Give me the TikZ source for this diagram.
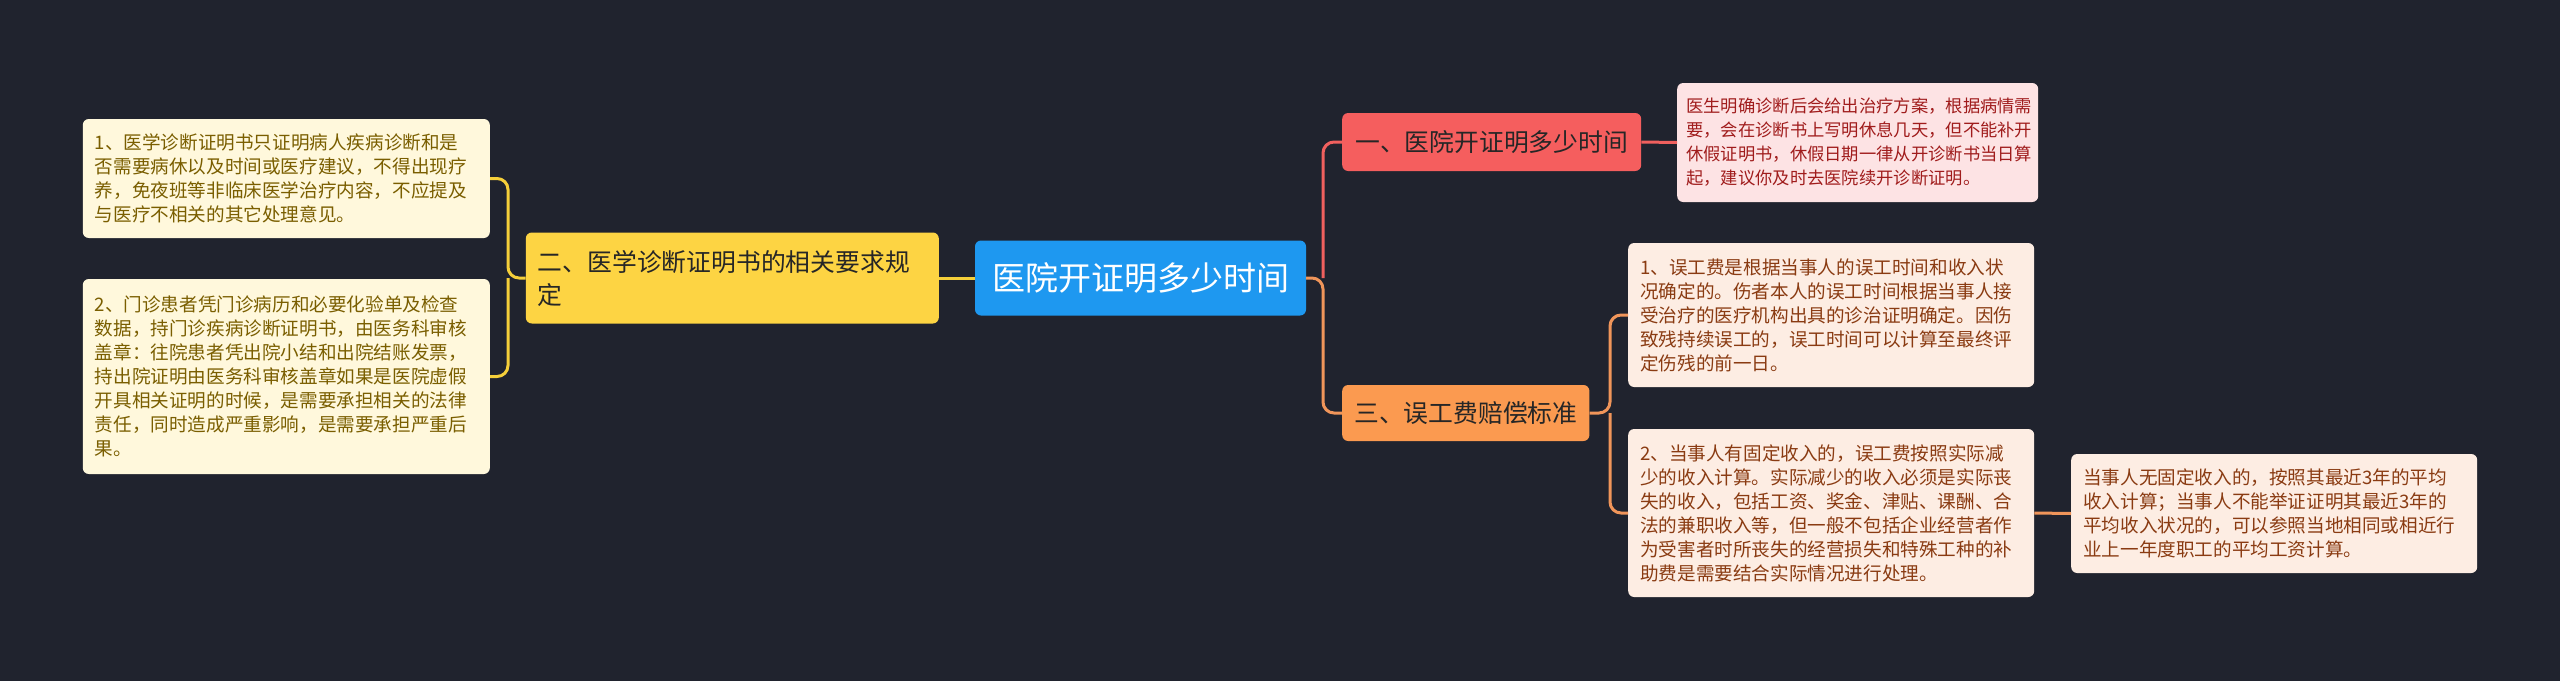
\documentclass[tikz,border=0pt]{standalone}
\usepackage{fontspec}
\setmainfont{Noto Sans CJK SC}
\definecolor{fond}{HTML}{20232E}
\definecolor{bleu}{HTML}{1E98F0}
\definecolor{jauneFonce}{HTML}{FDD443}
\definecolor{jauneClair}{HTML}{FFF8DC}
\definecolor{jauneTexte}{HTML}{7A5E00}
\definecolor{jauneLien}{HTML}{F5CF3A}
\definecolor{rougeFonce}{HTML}{F55E5E}
\definecolor{rougeClair}{HTML}{FDE3E4}
\definecolor{rougeTexte}{HTML}{A01C1C}
\definecolor{rougeLien}{HTML}{F0605E}
\definecolor{orangeFonce}{HTML}{FB9A50}
\definecolor{orangeClair}{HTML}{FDEDE3}
\definecolor{orangeTexte}{HTML}{8A3B12}
\definecolor{orangeLien}{HTML}{F0955A}
\begin{document}
\begin{tikzpicture}[x=1pt,y=-1pt]
			% Styles
			\tikzstyle{lien}=[line width=3pt,rounded corners=11pt]
			\tikzstyle{noeud}=[rounded corners=6pt,inner xsep=12pt,inner ysep=0pt]
			\tikzstyle{racine}=[noeud,fill=bleu,text=white,font=\fontsize{33}{38}\selectfont]
			\tikzstyle{branche}=[noeud,text=black!85,font=\fontsize{24.8}{33}\selectfont]
			\tikzstyle{feuille}=[noeud,align=left,font=\fontsize{18.6}{24}\selectfont]
			% Dimensions
			\def\NiveauA{490}
			\def\NiveauB{939}
			\def\NiveauC{1140.5}
			\def\NiveauD{1342}
			\def\NiveauE{1628}
			\def\NiveauF{2071}
			\def\Centre{278}
			% Fond
			\fill[fond] (0,0) rectangle (2560,681);
			\useasboundingbox (0,0) rectangle (2560,681);
			% Noeuds
			\node[racine,minimum width=331,minimum height=75] (R) at ({\NiveauC},{\Centre}) {医院开证明多少时间};
			%
			\node[branche,fill=rougeFonce,anchor=west,minimum width=299,minimum height=58] (Ra) at ({\NiveauD},142) {一、医院开证明多少时间};
			\node[feuille,fill=rougeClair,text=rougeTexte,anchor=west,text width=343,inner xsep=9pt,minimum height=119,font=\fontsize{17.3}{24}\selectfont] (Raa) at (1677,142.5) {医生明确诊断后会给出治疗方案，根据病情需\\要，会在诊断书上写明休息几天，但不能补开\\休假证明书，休假日期一律从开诊断书当日算\\起，建议你及时去医院续开诊断证明。};
			%
			\node[branche,fill=orangeFonce,anchor=west,minimum width=247,minimum height=56] (Rb) at ({\NiveauD},413) {三、误工费赔偿标准};
			\node[feuille,fill=orangeClair,text=orangeTexte,anchor=west,text width=382,minimum height=144] (Rba) at ({\NiveauE},315) {1、误工费是根据当事人的误工时间和收入状\\况确定的。伤者本人的误工时间根据当事人接\\受治疗的医疗机构出具的诊治证明确定。因伤\\致残持续误工的，误工时间可以计算至最终评\\定伤残的前一日。};
			\node[feuille,fill=orangeClair,text=orangeTexte,anchor=west,text width=382,minimum height=168] (Rbb) at ({\NiveauE},513) {2、当事人有固定收入的，误工费按照实际减\\少的收入计算。实际减少的收入必须是实际丧\\失的收入，包括工资、奖金、津贴、课酬、合\\法的兼职收入等，但一般不包括企业经营者作\\为受害者时所丧失的经营损失和特殊工种的补\\助费是需要结合实际情况进行处理。};
			\node[feuille,fill=orangeClair,text=orangeTexte,anchor=west,text width=382,minimum height=119] (Rbba) at ({\NiveauF},513.5) {当事人无固定收入的，按照其最近3年的平均\\收入计算；当事人不能举证证明其最近3年的\\平均收入状况的，可以参照当地相同或相近行\\业上一年度职工的平均工资计算。};
			%
			\node[branche,fill=jauneFonce,anchor=east,align=left,text width=389,minimum height=91] (Rc) at ({\NiveauB},{\Centre}) {二、医学诊断证明书的相关要求规\\定};
			\node[feuille,fill=jauneClair,text=jauneTexte,anchor=east,text width=383,minimum height=119] (Rca) at ({\NiveauA},178.5) {1、医学诊断证明书只证明病人疾病诊断和是\\否需要病休以及时间或医疗建议，不得出现疗\\养，免夜班等非临床医学治疗内容，不应提及\\与医疗不相关的其它处理意见。};
			\node[feuille,fill=jauneClair,text=jauneTexte,anchor=east,text width=383,minimum height=195] (Rcb) at ({\NiveauA},376.5) {2、门诊患者凭门诊病历和必要化验单及检查\\数据，持门诊疾病诊断证明书，由医务科审核\\盖章：往院患者凭出院小结和出院结账发票，\\持出院证明由医务科审核盖章如果是医院虚假\\开具相关证明的时候，是需要承担相关的法律\\责任，同时造成严重影响，是需要承担严重后\\果。};
			% Jonctions
			\coordinate (jR) at (1323,{\Centre});
			\coordinate (jB) at (1610,413);
			\coordinate (jC) at (508,{\Centre});
			% Arcs
			\draw[lien,rougeLien] (jR) |- (Ra.west);
			\draw[lien,orangeLien] (R.east) -- (jR) |- (Rb.west);
			\draw[lien,rougeLien] (Ra.east) -- (Raa.west);
			\draw[lien,orangeLien] (Rb.east) -- (jB) |- (Rba.west);
			\draw[lien,orangeLien] (jB) |- (Rbb.west);
			\draw[lien,orangeLien] (Rbb.east) -- (Rbba.west);
			\draw[lien,jauneLien] (R.west) -- (Rc.east);
			\draw[lien,jauneLien] (Rc.west) -- (jC) |- (Rca.east);
			\draw[lien,jauneLien] (jC) |- (Rcb.east);
\end{tikzpicture}
\end{document}
